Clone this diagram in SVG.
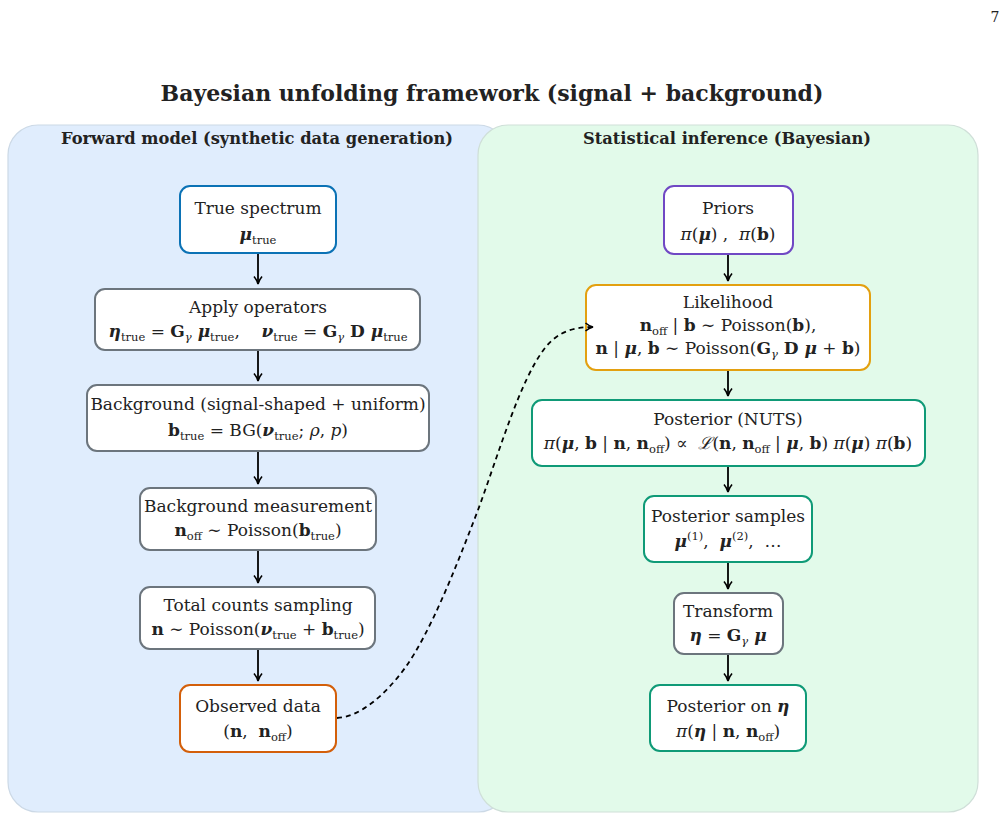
<svg xmlns="http://www.w3.org/2000/svg" width="1007" height="820" viewBox="0 0 1007 820">
<defs>
<style>
text{font-family:"DejaVu Serif","Liberation Serif",serif;fill:#222;}
.t{font-size:17px;text-anchor:middle;}
.h{font-size:22px;font-weight:bold;text-anchor:middle;}
.ph{font-size:16.3px;font-weight:bold;text-anchor:middle;}
.b{font-weight:bold;}
.bi{font-weight:bold;font-style:italic;}
.i{font-style:italic;}
.s{font-size:11.5px;}
.box{fill:#fff;stroke-width:2;}
.gray{stroke:#6c757d;}
.arr{fill:none;stroke:#000;stroke-width:1.8;marker-end:url(#ah);}
</style>
<marker id="ah" viewBox="0 0 10 10" refX="9" refY="5" markerWidth="10" markerHeight="10" markerUnits="userSpaceOnUse" orient="auto">
<path d="M1.5,1 Q5,4 9,5 Q5,6 1.5,9" fill="none" stroke="#000" stroke-width="1.6"/>
</marker>
</defs>
<rect width="1007" height="820" fill="#fff"/>
<text x="995" y="22" style="font-size:14px" text-anchor="middle">7</text>
<text class="h" x="492" y="101">Bayesian unfolding framework (signal + background)</text>

<g id="panel-forward">
<rect x="8" y="125" width="500" height="687" rx="30" fill="#e0edfd" stroke="#ccd9e6" stroke-width="1.2"/>
<text class="ph" x="257" y="144">Forward model (synthetic data generation)</text>
</g>
<g id="panel-inference">
<rect x="478" y="125" width="500" height="687" rx="30" fill="#e2faea" stroke="#cfdfd8" stroke-width="1.2"/>
<text class="ph" x="727" y="144">Statistical inference (Bayesian)</text>
</g>

<g id="n-true">
<rect class="box" x="180" y="186" width="156" height="67" rx="10" stroke="#0b72b5"/>
<text class="t" x="258" y="214">True spectrum</text>
<text class="t" x="258" y="240"><tspan class="bi">μ</tspan><tspan class="s" dy="4">true</tspan></text>
</g>
<g id="n-apply">
<rect class="box gray" x="95" y="289" width="325" height="61" rx="10"/>
<text class="t" x="258" y="313">Apply operators</text>
<text class="t" x="258" y="337"><tspan class="bi">η</tspan><tspan class="s" dy="4">true</tspan><tspan dy="-4"> = </tspan><tspan class="b">G</tspan><tspan class="s i" dy="4">γ</tspan><tspan class="bi" dy="-4"> μ</tspan><tspan class="s" dy="4">true</tspan><tspan dy="-4">,&#160;&#160;&#160; </tspan><tspan class="bi">ν</tspan><tspan class="s" dy="4">true</tspan><tspan dy="-4"> = </tspan><tspan class="b">G</tspan><tspan class="s i" dy="4">γ</tspan><tspan class="b" dy="-4"> D</tspan><tspan class="bi"> μ</tspan><tspan class="s" dy="4">true</tspan></text>
</g>
<g id="n-bg">
<rect class="box gray" x="87" y="385" width="342" height="66" rx="10"/>
<text class="t" x="258" y="410">Background (signal-shaped + uniform)</text>
<text class="t" x="258" y="436"><tspan class="b">b</tspan><tspan class="s" dy="4">true</tspan><tspan dy="-4"> = BG(</tspan><tspan class="bi">ν</tspan><tspan class="s" dy="4">true</tspan><tspan dy="-4">; </tspan><tspan class="i">ρ</tspan>, <tspan class="i">p</tspan>)</text>
</g>
<g id="n-bgmeas">
<rect class="box gray" x="140" y="488" width="236" height="62" rx="10"/>
<text class="t" x="258" y="512">Background measurement</text>
<text class="t" x="258" y="536"><tspan class="b">n</tspan><tspan class="s" dy="4">off</tspan><tspan dy="-4"> ∼ Poisson(</tspan><tspan class="b">b</tspan><tspan class="s" dy="4">true</tspan><tspan dy="-4">)</tspan></text>
</g>
<g id="n-total">
<rect class="box gray" x="140" y="587" width="235" height="62" rx="10"/>
<text class="t" x="258" y="611">Total counts sampling</text>
<text class="t" x="258" y="635"><tspan class="b">n</tspan> ∼ Poisson(<tspan class="bi">ν</tspan><tspan class="s" dy="4">true</tspan><tspan dy="-4"> + </tspan><tspan class="b">b</tspan><tspan class="s" dy="4">true</tspan><tspan dy="-4">)</tspan></text>
</g>
<g id="n-observed">
<rect class="box" x="180" y="685" width="156" height="67" rx="10" stroke="#d35f0a"/>
<text class="t" x="258" y="712">Observed data</text>
<text class="t" x="258" y="737">(<tspan class="b">n</tspan>,&#160; <tspan class="b">n</tspan><tspan class="s" dy="4">off</tspan><tspan dy="-4">)</tspan></text>
</g>

<g id="n-priors">
<rect class="box" x="664" y="186" width="129" height="68" rx="10" stroke="#7048c4"/>
<text class="t" x="728" y="214">Priors</text>
<text class="t" x="728" y="240"><tspan class="i">π</tspan>(<tspan class="bi">μ</tspan>) ,&#160; <tspan class="i">π</tspan>(<tspan class="b">b</tspan>)</text>
</g>
<g id="n-like">
<rect class="box" x="586" y="285" width="284" height="85" rx="10" stroke="#e3a010"/>
<text class="t" x="728" y="308">Likelihood</text>
<text class="t" x="728" y="331"><tspan class="b">n</tspan><tspan class="s" dy="4">off</tspan><tspan dy="-4"> | </tspan><tspan class="b">b</tspan> ∼ Poisson(<tspan class="b">b</tspan>),</text>
<text class="t" x="728" y="354"><tspan class="b">n</tspan> | <tspan class="bi">μ</tspan>, <tspan class="b">b</tspan> ∼ Poisson(<tspan class="b">G</tspan><tspan class="s i" dy="4">γ</tspan><tspan class="b" dy="-4"> D</tspan><tspan class="bi"> μ</tspan> + <tspan class="b">b</tspan>)</text>
</g>
<g id="n-post">
<rect class="box" x="532" y="400" width="393" height="66" rx="10" stroke="#0f9a77"/>
<text class="t" x="728" y="425">Posterior (NUTS)</text>
<text class="t" x="728" y="449"><tspan class="i">π</tspan>(<tspan class="bi">μ</tspan>, <tspan class="b">b</tspan> | <tspan class="b">n</tspan>, <tspan class="b">n</tspan><tspan class="s" dy="4">off</tspan><tspan dy="-4">) ∝&#160; </tspan><tspan class="i">ℒ</tspan>(<tspan class="b">n</tspan>, <tspan class="b">n</tspan><tspan class="s" dy="4">off</tspan><tspan dy="-4"> | </tspan><tspan class="bi">μ</tspan>, <tspan class="b">b</tspan>) <tspan class="i">π</tspan>(<tspan class="bi">μ</tspan>) <tspan class="i">π</tspan>(<tspan class="b">b</tspan>)</text>
</g>
<g id="n-samples">
<rect class="box" x="644" y="496" width="168" height="66" rx="10" stroke="#0f9a77"/>
<text class="t" x="728" y="522">Posterior samples</text>
<text class="t" x="728" y="547"><tspan class="bi">μ</tspan><tspan class="s" dy="-7">(1)</tspan><tspan dy="7">,&#160; </tspan><tspan class="bi">μ</tspan><tspan class="s" dy="-7">(2)</tspan><tspan dy="7">,&#160; …</tspan></text>
</g>
<g id="n-transform">
<rect class="box gray" x="674" y="593" width="109" height="61" rx="10"/>
<text class="t" x="728" y="617">Transform</text>
<text class="t" x="728" y="641"><tspan class="bi">η</tspan> = <tspan class="b">G</tspan><tspan class="s i" dy="4">γ</tspan><tspan class="bi" dy="-4"> μ</tspan></text>
</g>
<g id="n-posteta">
<rect class="box" x="650" y="685" width="156" height="66" rx="10" stroke="#0f9a77"/>
<text class="t" x="728" y="712">Posterior on <tspan class="bi">η</tspan></text>
<text class="t" x="728" y="737"><tspan class="i">π</tspan>(<tspan class="bi">η</tspan> | <tspan class="b">n</tspan>, <tspan class="b">n</tspan><tspan class="s" dy="4">off</tspan><tspan dy="-4">)</tspan></text>
</g>

<g id="connectors">
<path class="arr" d="M258,254 V284"/>
<path class="arr" d="M258,351 V381"/>
<path class="arr" d="M258,452 V484"/>
<path class="arr" d="M258,551 V583"/>
<path class="arr" d="M258,650 V681"/>
<path class="arr" d="M728,255 V281"/>
<path class="arr" d="M728,371 V396"/>
<path class="arr" d="M728,467 V492"/>
<path class="arr" d="M728,563 V589"/>
<path class="arr" d="M728,655 V681"/>
<path class="arr" stroke-dasharray="5,4" d="M337,718 C360,717 385,695 405,668 C430,633 455,570 478,510 C500,450 520,380 545,348 C558,331 575,327 593,327"/>
</g>
</svg>
